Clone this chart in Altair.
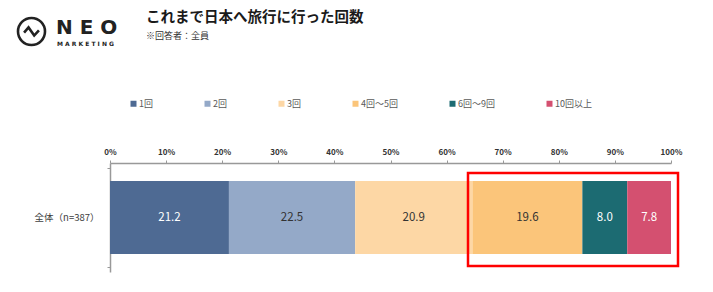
import altair as alt
import pandas as pd

categories = ["1回", "2回", "3回", "4回～5回", "6回～9回", "10回以上"]
values = [21.2, 22.5, 20.9, 19.6, 8.0, 7.8]
colors = ["#4e6a93", "#94a9c8", "#fdd7a5", "#fbc57a", "#1c6b72", "#d45070"]
group_label = "全体（n=387）"
x_ticks = [0, 10, 20, 30, 40, 50, 60, 70, 80, 90, 100]
title_text = "これまで日本へ旅行に行った回数"
subtitle_text = "※回答者：全員"
white_labels = ["1回", "6回～9回", "10回以上"]

FONT = "Noto Sans CJK JP"

df = pd.DataFrame({
    "group": [group_label] * len(categories),
    "cat": categories,
    "val": values,
    "ord": list(range(len(categories))),
})

base = alt.Chart(df).transform_stack(
    stack="val", groupby=["group"], as_=["x0", "x1"], sort=[alt.SortField("ord")]
).transform_calculate(mid="(datum.x0 + datum.x1) / 2")

y_enc = alt.Y(
    "group:N",
    title=None,
    axis=alt.Axis(
        domainColor="#999999", domainWidth=1.5, ticks=True, tickBand="extent",
        tickSize=3, tickColor="#999999", labelFont=FONT, labelFontSize=9.5,
        labelColor="#404040", labelPadding=8,
    ),
)

bars = base.mark_bar(size=73).encode(
    x=alt.X(
        "x0:Q",
        scale=alt.Scale(domain=[0, 100], nice=False),
        title=None,
        axis=alt.Axis(
            orient="top", values=x_ticks, labelExpr="datum.value + '%'",
            labelFont=FONT, labelFontSize=8, labelFontWeight="bold",
            labelColor="#333333", domainColor="#999999", domainWidth=1.5,
            tickColor="#999999", tickSize=3, labelPadding=4, grid=False,
            labelFlush=False, labelOverlap=False,
        ),
    ),
    x2="x1:Q",
    y=y_enc,
    color=alt.Color(
        "cat:N",
        scale=alt.Scale(domain=categories, range=colors),
        sort=categories,
        legend=alt.Legend(
            title=None, orient="none", direction="horizontal",
            legendX=19, legendY=-64, symbolType="square", symbolSize=36,
            symbolStrokeWidth=0, labelFont=FONT, labelFontSize=9,
            labelColor="#595959", labelOffset=1, columnPadding=50,
            gridAlign="each",
        ),
    ),
    order=alt.Order("ord:Q"),
)

labels = base.mark_text(font=FONT, fontSize=11.5).encode(
    x=alt.X("mid:Q"),
    y=alt.Y("group:N"),
    text=alt.Text("val:Q", format=".1f"),
    color=alt.condition(
        alt.FieldOneOfPredicate(field="cat", oneOf=white_labels),
        alt.value("#ffffff"),
        alt.value("#333333"),
    ),
)

one = pd.DataFrame({"a": [0]})

highlight = alt.Chart(one).mark_rect(
    filled=False, stroke="#ff0000", strokeWidth=2.5
).encode(
    x=alt.value(358), x2=alt.value(568), y=alt.value(10), y2=alt.value(103)
)

title_mark = alt.Chart(one).mark_text(
    text=title_text, font=FONT, fontSize=14.5, fontWeight="bold",
    align="left", baseline="middle", color="#1a1a1a",
).encode(x=alt.value(36), y=alt.value(-145.5))

subtitle_mark = alt.Chart(one).mark_text(
    text=subtitle_text, font=FONT, fontSize=9, align="left",
    baseline="middle", color="#333333",
).encode(x=alt.value(36), y=alt.value(-127.5))

logo_path = (
    "M -1 0 A 1 1 0 1 0 1 0 A 1 1 0 1 0 -1 0 "
    "M -0.55 0.08 L -0.22 -0.3 L 0.2 0.3 L 0.55 -0.08"
)
logo_mark = alt.Chart(one).mark_point(
    shape=logo_path, size=729, filled=False, stroke="#222222", strokeWidth=2.6,
    opacity=1,
).encode(x=alt.value(-78.5), y=alt.value(-131.5))

neo_mark = alt.Chart(one).mark_text(
    text="N E O", font="DejaVu Sans", fontSize=20, fontWeight="bold",
    align="left", baseline="middle", color="#222222",
).encode(x=alt.value(-54), y=alt.value(-135))

mkt_mark = alt.Chart(one).mark_text(
    text="M A R K E T I N G", font="DejaVu Sans", fontSize=6, fontWeight="bold",
    align="left", baseline="middle", color="#222222",
).encode(x=alt.value(-53), y=alt.value(-119.5))

chart = alt.layer(
    bars, labels, highlight, title_mark, subtitle_mark, logo_mark, neo_mark, mkt_mark
).properties(
    width=561, height=109,
    padding={"left": 110, "top": 163, "right": 42, "bottom": 20},
    autosize=alt.AutoSizeParams(type="none"),
    background="#ffffff",
).configure_view(stroke=None)

chart.save("out.html", embed_options={"renderer": "svg", "actions": False})
